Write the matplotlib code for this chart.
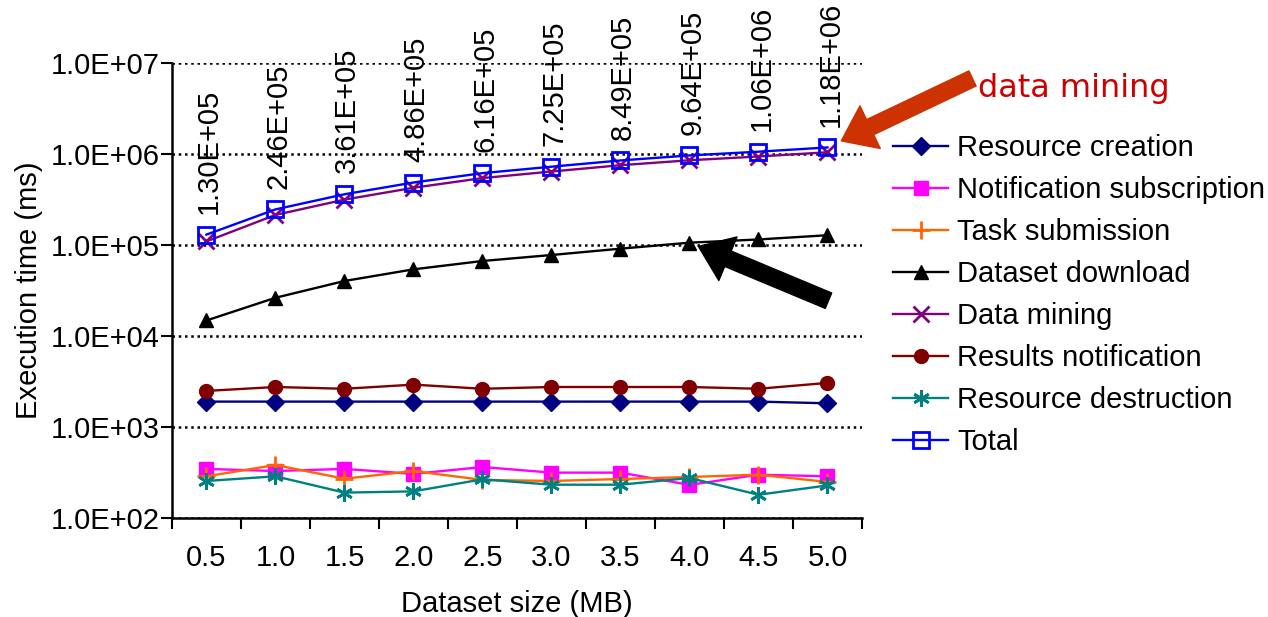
import matplotlib
matplotlib.use('Agg')
from matplotlib import pyplot as plt
from matplotlib.ticker import FixedLocator, FuncFormatter, NullLocator

plt.rcParams['font.family'] = ['Liberation Sans', 'DejaVu Sans']

# dataset sizes (MB) and execution times (ms)
sizes = ['0.5', '1.0', '1.5', '2.0', '2.5', '3.0', '3.5', '4.0', '4.5', '5.0']
resource_creation = [1900, 1900, 1900, 1900, 1900, 1900, 1900, 1900, 1900, 1820]
notification_subscription = [346, 328, 346, 305, 363, 315, 315, 231, 299, 287]
task_submission = [287, 382, 270, 328, 262, 255, 268, 282, 299, 249]
dataset_download = [14800, 26300, 40200, 54000, 66700, 77600, 91100, 106000, 115000, 128000]
data_mining = [109500, 214000, 315000, 425500, 543700, 641700, 752900, 853300, 938400, 1045000]
results_notification = [2490, 2750, 2630, 2920, 2630, 2750, 2750, 2750, 2630, 3050]
resource_destruction = [255, 287, 190, 196, 266, 232, 232, 275, 180, 228]
total = [130000, 246000, 361000, 486000, 616000, 725000, 849000, 964000, 1060000, 1180000]

series = [
    ('Resource creation', resource_creation, '#000080', 'D', 9, True),
    ('Notification subscription', notification_subscription, '#FF00FF', 's', 10, True),
    ('Task submission', task_submission, '#FF6600', '+', 13, True),
    ('Dataset download', dataset_download, '#000000', '^', 10, True),
    ('Data mining', data_mining, '#800080', 'x', 11, True),
    ('Results notification', results_notification, '#800000', 'o', 10, True),
    ('Resource destruction', resource_destruction, '#008080', (6, 2, 0), 12, True),
    ('Total', total, '#0000FF', 's', 12, False),
]

FS = 21

fig = plt.figure(figsize=(12.68, 6.17), dpi=100)
ax = fig.add_axes([0.1356, 0.1605, 0.5442, 0.7374])

x = list(range(1, len(sizes) + 1))
for name, vals, col, mk, ms, filled in series:
    ax.plot(x, vals, color=col, lw=1.7, marker=mk, ms=ms,
            mfc=col if filled else 'none', mec=col,
            mew=2 if mk in ('+', 'x', (6, 2, 0)) or not filled else 1,
            label=name, clip_on=False, zorder=4 if name == 'Total' else 3)

ax.set_yscale('log')
ax.set_ylim(1e2, 1e7)
ax.set_xlim(0.5, len(sizes) + 0.5)
ax.yaxis.set_major_locator(FixedLocator([1e2, 1e3, 1e4, 1e5, 1e6, 1e7]))
ax.yaxis.set_minor_locator(NullLocator())
ax.yaxis.set_major_formatter(FuncFormatter(lambda v, p: f'{v:.1E}'))
ax.set_xticks(x)
ax.set_xticklabels(sizes)
ax.set_xticks([i + 0.5 for i in range(len(sizes) + 1)], minor=True)
ax.tick_params(axis='x', which='major', length=0, pad=19, labelsize=FS)
ax.tick_params(axis='x', which='minor', length=8, width=1.5, direction='out')
ax.tick_params(axis='y', which='major', length=8, width=1.5, direction='out', pad=1, labelsize=FS)

for s in ('top', 'right'):
    ax.spines[s].set_visible(False)
for s in ('left', 'bottom'):
    ax.spines[s].set_linewidth(1.8)

ax.grid(axis='y', which='major', color='black', linestyle=(0, (1, 1.5)), lw=1.8)
ax.set_axisbelow(True)

ax.set_xlabel('Dataset size (MB)', fontsize=FS, labelpad=13)
ax.set_ylabel('Execution time (ms)', fontsize=FS, labelpad=5)

# value labels above the total curve
for xi, v in zip(x, total):
    ax.annotate(f'{v:.2E}', (xi, v), xytext=(2, 15), textcoords='offset points',
                rotation=90, ha='center', va='bottom', fontsize=FS, annotation_clip=False)

# arrows
ax.annotate('', xy=(x[-1], total[-1]), xytext=(145, 69), textcoords='offset pixels',
            arrowprops=dict(arrowstyle='simple,head_length=1.15,head_width=1.7,tail_width=0.6',
                            mutation_scale=20, color='#CC3300', shrinkA=0, shrinkB=11),
            annotation_clip=False)
ax.annotate('', xy=(x[7], dataset_download[7]), xytext=(139, -58), textcoords='offset pixels',
            arrowprops=dict(arrowstyle='simple,head_length=1.15,head_width=1.7,tail_width=0.6',
                            mutation_scale=20, color='black', shrinkA=0, shrinkB=7),
            annotation_clip=False)
fig.text(978 / 1268, 1 - 88 / 617, 'data mining', color='#CC0000', fontsize=23,
         family='DejaVu Sans', va='center', ha='left')

ax.legend(loc='upper left', bbox_to_anchor=(893 / 1268, 1 - 134 / 617),
          bbox_transform=fig.transFigure, frameon=False, fontsize=FS,
          handlelength=1.9, handletextpad=0.3, labelspacing=0.48,
          borderpad=0, borderaxespad=0)

fig.savefig('out.png', dpi=100)
